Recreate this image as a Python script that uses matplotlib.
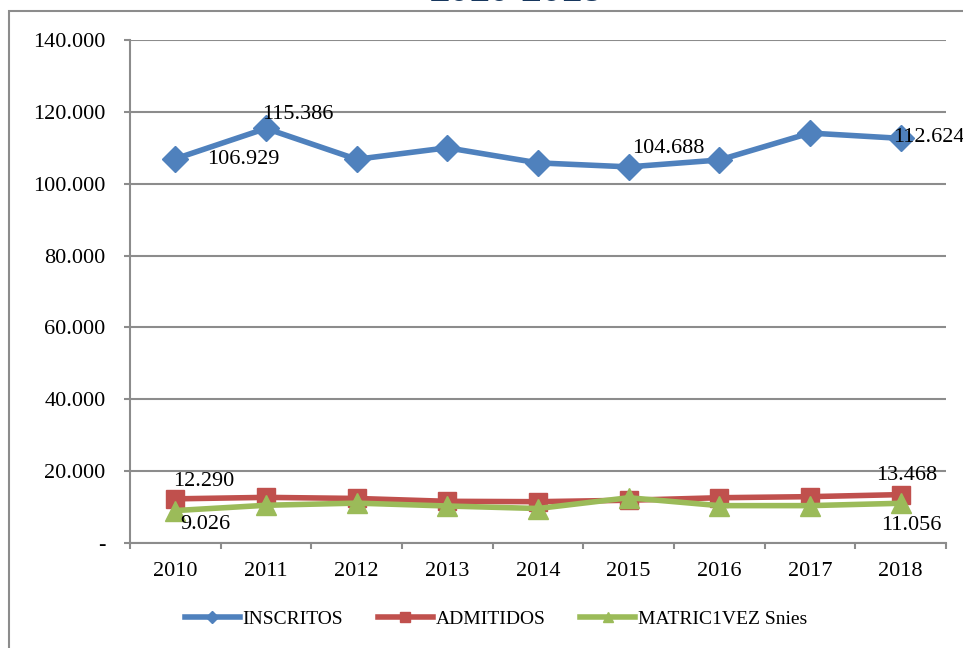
import matplotlib.pyplot as plt
from matplotlib.patches import Rectangle
from matplotlib.ticker import FuncFormatter

years = ['2010', '2011', '2012', '2013', '2014', '2015', '2016', '2017', '2018']
inscritos = [106929, 115386, 106800, 110000, 105800, 104688, 106600, 114100, 112624]
admitidos = [12290, 12700, 12400, 11600, 11500, 11900, 12600, 12900, 13468]
matric1vez = [9026, 10500, 11100, 10300, 9600, 12600, 10400, 10400, 11056]
series_names = ['INSCRITOS', 'ADMITIDOS', 'MATRIC1VEZ Snies']

W, H = 963, 648
fig = plt.figure(figsize=(W / 100, H / 100), dpi=100)
plt.rcParams['font.family'] = ['Liberation Serif', 'DejaVu Serif']

# marco del gráfico (se sale por la derecha y por abajo)
fig.patches.append(Rectangle((9 / W, -0.1), 1.2, 1 - 11 / H + 0.1, transform=fig.transFigure,
                             fill=False, edgecolor='#8c8c8c', lw=1.5))

# título, casi todo fuera de la imagen
fig.text(516 / W, 1 - 1 / H, '2010-2018', ha='center', va='baseline', fontsize=26,
         fontweight='bold', color='#17375E', family='Liberation Sans')

ax = fig.add_axes([130 / W, 105 / H, 816 / W, 503 / H])
x = list(range(len(years)))

ax.plot(x, inscritos, color='#4F81BD', lw=4, marker='D', ms=13, label=series_names[0])
ax.plot(x, admitidos, color='#C0504D', lw=4, marker='s', ms=13, label=series_names[1])
ax.plot(x, matric1vez, color='#9BBB59', lw=4, marker='^', ms=15, label=series_names[2])

ax.set_xlim(-0.5, 8.5)
ax.set_ylim(0, 140000)
ax.set_yticks(range(0, 140001, 20000))
ax.yaxis.set_major_formatter(FuncFormatter(lambda v, p: '-' if v == 0 else f'{int(v):,}'.replace(',', '.')))
ax.set_xticks([i - 0.5 for i in range(len(years) + 1)])
ax.set_xticklabels([])
ax.set_xticks(x, minor=True)
ax.set_xticklabels(years, minor=True)
ax.tick_params(axis='x', which='minor', length=0, pad=14, labelsize=16)
ax.tick_params(axis='x', which='major', length=4.5, width=1.5, color='#8c8c8c')
ax.tick_params(axis='y', length=4.5, width=1.5, color='#8c8c8c', pad=13, labelsize=16)

ax.grid(axis='y', color='#8c8c8c', lw=1.5)
ax.set_axisbelow(True)
for s in ['top', 'right']:
    ax.spines[s].set_visible(False)
for s in ['left', 'bottom']:
    ax.spines[s].set_color('#8c8c8c')
    ax.spines[s].set_linewidth(1.5)

# etiquetas de datos
labels = [
    (0, inscritos[0], (32, -1), 'left', 'center'),
    (1, inscritos[1], (-4, 14), 'left', 'center'),
    (5, inscritos[5], (3, 18), 'left', 'center'),
    (8, inscritos[8], (-8, 1), 'left', 'center'),
    (0, admitidos[0], (-2, 17), 'left', 'center'),
    (0, matric1vez[0], (5, -14), 'left', 'center'),
    (8, admitidos[8], (6, 19), 'center', 'center'),
    (8, matric1vez[8], (11, -22), 'center', 'center'),
]
for xi, v, off, ha, va in labels:
    ax.annotate(f'{v:,}'.replace(',', '.'), (xi, v), xytext=off, textcoords='offset pixels',
                ha=ha, va=va, fontsize=16, annotation_clip=False)

fig.legend(loc='center', bbox_to_anchor=(496 / W, 1 - 619 / H), ncol=3, frameon=False,
           fontsize=14, handlelength=2.8, handletextpad=0.15, columnspacing=1.8, markerscale=0.5)

fig.savefig('out.png', dpi=100)
